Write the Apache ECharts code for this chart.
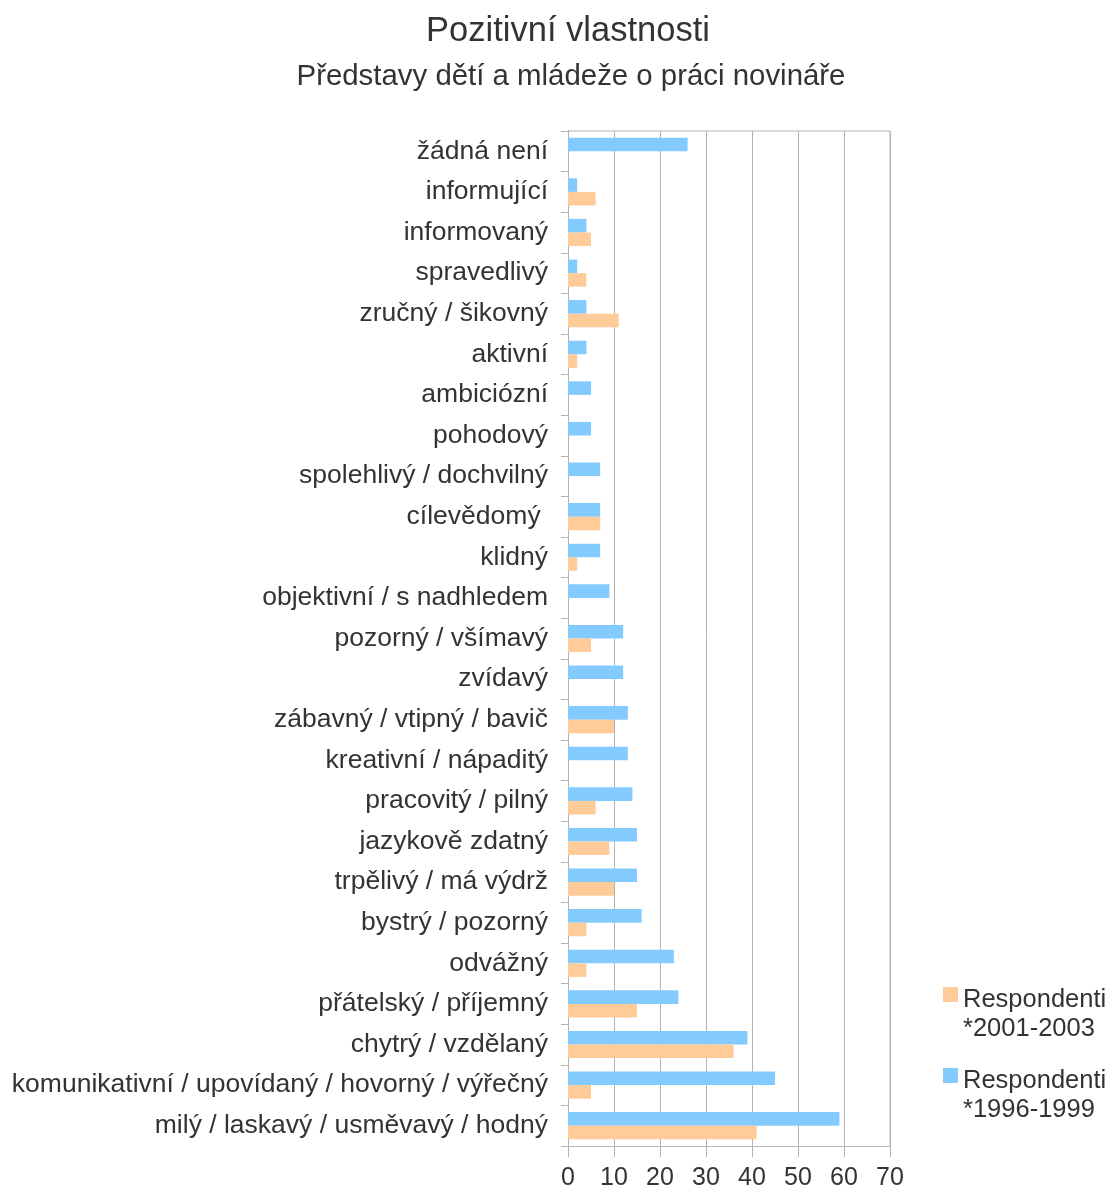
<!DOCTYPE html>
<html>
<head>
<meta charset="utf-8">
<script src="https://cdn.jsdelivr.net/npm/echarts@6/dist/echarts.min.js"></script>
<style>
html,body{margin:0;padding:0;background:#fff;}
#chart{width:1109px;height:1192px;}
</style>
</head>
<body>
<div id="chart"></div>
<script>
// categories listed bottom to top
var categories = [
  'milý / laskavý / usměvavý / hodný',
  'komunikativní / upovídaný / hovorný / výřečný',
  'chytrý / vzdělaný',
  'přátelský / příjemný',
  'odvážný',
  'bystrý / pozorný',
  'trpělivý / má výdrž',
  'jazykově zdatný',
  'pracovitý / pilný',
  'kreativní / nápaditý',
  'zábavný / vtipný / bavič',
  'zvídavý',
  'pozorný / všímavý',
  'objektivní / s nadhledem',
  'klidný',
  'cílevědomý ',
  'spolehlivý / dochvilný',
  'pohodový',
  'ambiciózní',
  'aktivní',
  'zručný / šikovný',
  'spravedlivý',
  'informovaný',
  'informující',
  'žádná není'
];
var resp19961999 = [59, 45, 39, 24, 23, 16, 15, 15, 14, 13, 13, 12, 12, 9, 7, 7, 7, 5, 5, 4, 4, 2, 4, 2, 26];
var resp20012003 = [41, 5, 36, 15, 4, 4, 10, 9, 6, 0, 10, 0, 5, 0, 2, 7, 0, 0, 0, 2, 11, 4, 5, 6, 0];
var xTicks = [0, 10, 20, 30, 40, 50, 60, 70];

var seriesNames = ['Respondenti *1996-1999', 'Respondenti *2001-2003'];
var textColor = '#333333';
var font = 'Liberation Sans, Arial, sans-serif';

var chart = echarts.init(document.getElementById('chart'), null, {renderer: 'canvas'});
chart.setOption({
  animation: false,
  backgroundColor: '#ffffff',
  textStyle: {fontFamily: font},
  title: [
    {text: 'Pozitivní vlastnosti', left: 563, top: 9, textAlign: 'center',
     textStyle: {fontSize: 34.5, fontWeight: 'normal', color: textColor, fontFamily: font}},
    {text: 'Představy dětí a mládeže o práci novináře', left: 566, top: 57, textAlign: 'center',
     textStyle: {fontSize: 29.4, fontWeight: 'normal', color: textColor, fontFamily: font}}
  ],
  legend: {
    orient: 'vertical',
    left: 938,
    top: 980,
    itemWidth: 15,
    itemHeight: 54,
    itemGap: 23,
    data: [seriesNames[1], seriesNames[0]],
    formatter: function (n) { return n.replace(' ', '\n'); },
    textStyle: {fontSize: 25.5, color: textColor, fontFamily: font, lineHeight: 29},
    icon: 'path://M0 0H15V15H0Z M0 54H0.01V54.01H0Z'
  },
  grid: {left: 568, right: 219, top: 131, bottom: 46, containLabel: false},
  xAxis: {
    type: 'value',
    min: xTicks[0],
    max: xTicks[xTicks.length - 1],
    interval: 10,
    axisLine: {show: true, lineStyle: {color: '#b3b3b3'}},
    axisTick: {show: true, length: 11, lineStyle: {color: '#b3b3b3'}},
    splitLine: {show: true, lineStyle: {color: '#b3b3b3'}},
    axisLabel: {fontSize: 25, color: textColor, margin: 20, fontFamily: font}
  },
  yAxis: {
    type: 'category',
    data: categories,
    axisLine: {show: true, lineStyle: {color: '#b3b3b3'}},
    axisTick: {show: true, length: 7, lineStyle: {color: '#b3b3b3'}},
    splitLine: {show: false},
    axisLabel: {fontSize: 26.5, color: textColor, margin: 20, fontFamily: font, padding: [4, 0, 0, 0]}
  },
  series: [
    {
      name: seriesNames[0], type: 'bar', data: resp19961999,
      itemStyle: {color: '#83caff'},
      barGap: '0%', barCategoryGap: '33%'
    },
    {
      name: seriesNames[1], type: 'bar', data: resp20012003,
      itemStyle: {color: '#ffcc99'},
      barGap: '0%', barCategoryGap: '33%'
    }
  ],
  graphic: [
    {type: 'line', shape: {x1: 568, y1: 131, x2: 890, y2: 131}, style: {stroke: '#b3b3b3', lineWidth: 1}, z: 10},
    {type: 'line', shape: {x1: 890, y1: 131, x2: 890, y2: 1146}, style: {stroke: '#b3b3b3', lineWidth: 1}, z: 10}
  ]
});
</script>
</body>
</html>
